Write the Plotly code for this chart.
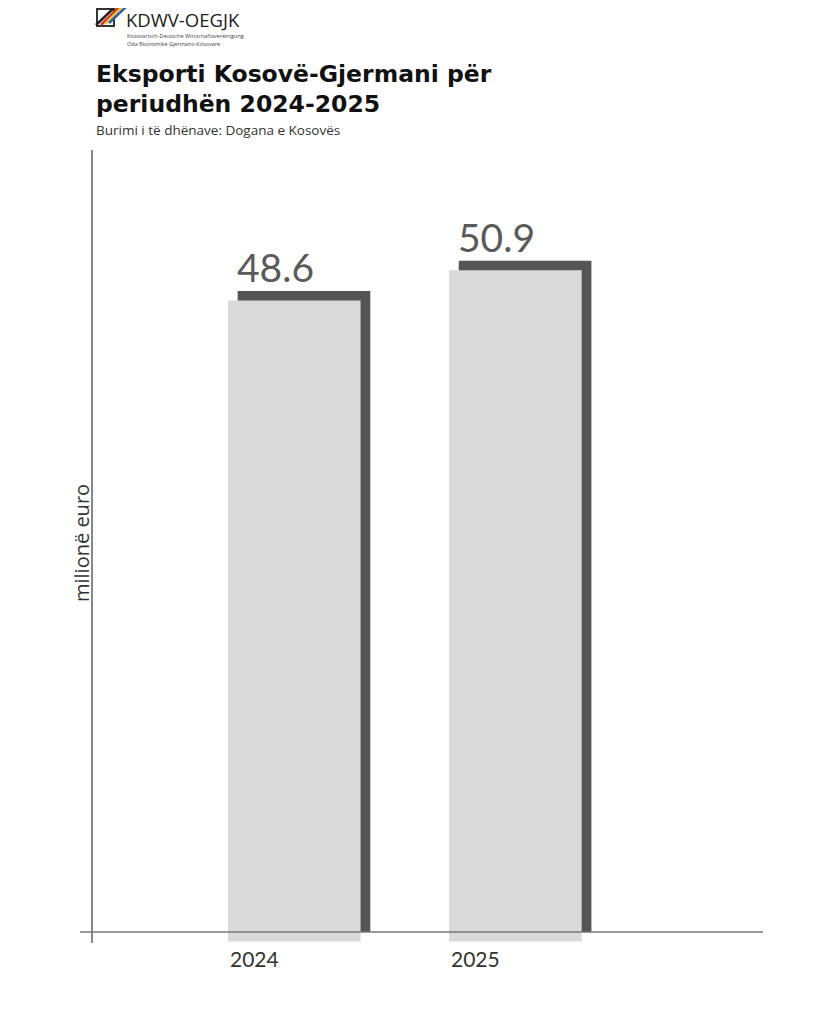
import plotly.graph_objects as go

years = ["2024", "2025"]
values = [48.6, 50.9]
value_labels = ["48.6", "50.9"]

title_line1 = "Eksporti Kosovë-Gjermani për"
title_line2 = "periudhën 2024-2025"
subtitle = "Burimi i të dhënave: Dogana e Kosovës"
y_title = "milionë euro"

LIGHT = "#d9d9d9"
DARK = "#555555"
BAR_W = 0.6
DX = 0.044      # shadow horizontal offset (data units)
DROP = 0.72     # front bar drop (data units)

xs = list(range(len(years)))

# page is offset by the 8px body margin; work in page pixel coords
OFF = 8
PAGE_W, PAGE_H = 819, 1024
W, H = PAGE_W - OFF, PAGE_H - OFF
X_LEFT, X_RIGHT, Y_TOP, Y_BOT = 93, 763, 150, 943   # plot area in page px
ML, MR, MT, MB = X_LEFT - OFF, W - (X_RIGHT - OFF), Y_TOP - OFF, H - (Y_BOT - OFF)
PW, PH = X_RIGHT - X_LEFT, Y_BOT - Y_TOP


def pxp(x):
    return (x - X_LEFT) / PW


def pyp(y):
    return (Y_BOT - y) / PH


fig = go.Figure()
# shadow bars
fig.add_trace(go.Bar(x=[x + DX for x in xs], y=values, width=BAR_W,
                     marker=dict(color=DARK, line=dict(width=0)),
                     hoverinfo="skip", showlegend=False))
# front bars (shifted down/left)
fig.add_trace(go.Bar(x=xs, y=values, base=[-DROP] * len(values), width=BAR_W,
                     marker=dict(color=LIGHT, line=dict(width=0)),
                     hoverinfo="skip", showlegend=False))

annotations = []
for x, v, lab, yr in zip(xs, values, value_labels, years):
    annotations.append(dict(x=x + DX - BAR_W / 2, y=v, xref="x", yref="y",
                            text=lab, showarrow=False, xanchor="left", yanchor="bottom",
                            xshift=-3, yshift=-1,
                            font=dict(family="Lato", size=39, color="#5a5a5a")))
    annotations.append(dict(x=x - BAR_W / 2, y=0, xref="x", yref="y",
                            text=yr, showarrow=False, xanchor="left", yanchor="top",
                            yshift=-12,
                            font=dict(family="Lato", size=21, color="#333333")))

annotations += [
    dict(x=pxp(94), y=pyp(74), xref="paper", yref="paper", text="<b>" + title_line1 + "</b>",
         showarrow=False, xanchor="left", yanchor="middle",
         font=dict(family="DejaVu Sans", size=23.5, color="#111111")),
    dict(x=pxp(94), y=pyp(104), xref="paper", yref="paper", text="<b>" + title_line2 + "</b>",
         showarrow=False, xanchor="left", yanchor="middle",
         font=dict(family="DejaVu Sans", size=23.5, color="#111111")),
    dict(x=pxp(94), y=pyp(141), xref="paper", yref="paper", text=subtitle,
         showarrow=False, xanchor="left", yanchor="bottom",
         font=dict(family="Open Sans", size=13.5, color="#333333")),
    dict(x=pxp(81), y=pyp(543), xref="paper", yref="paper", text=y_title,
         showarrow=False, xanchor="center", yanchor="middle", textangle=-90,
         font=dict(family="Open Sans", size=20, color="#333333")),
    # logo
    dict(x=pxp(125), y=pyp(19.5), xref="paper", yref="paper", text="KDWV-OEGJK",
         showarrow=False, xanchor="left", yanchor="middle", borderpad=0,
         font=dict(family="Open Sans", size=18.5, color="#222222")),
    dict(x=pxp(126), y=pyp(36), xref="paper", yref="paper",
         text="Kosovarisch-Deutsche Wirtschaftsvereinigung",
         showarrow=False, xanchor="left", yanchor="middle", borderpad=0,
         font=dict(family="Open Sans", size=5.5, color="#444444")),
    dict(x=pxp(126), y=pyp(44), xref="paper", yref="paper",
         text="Oda Ekonomike Gjermano-Kosovare",
         showarrow=False, xanchor="left", yanchor="middle", borderpad=0,
         font=dict(family="Open Sans", size=5.5, color="#444444")),
]

shapes = [
    # x axis line extending a bit left of the y axis
    dict(type="line", xref="paper", yref="y", x0=pxp(80), x1=1, y0=0, y1=0,
         line=dict(color="#777777", width=1.5)),
    # logo mark
    dict(type="rect", xref="paper", yref="paper", x0=pxp(97), x1=pxp(114), y0=pyp(26), y1=pyp(9),
         line=dict(color="#333333", width=2)),
    dict(type="line", xref="paper", yref="paper", x0=pxp(96), x1=pxp(116), y0=pyp(25), y1=pyp(6),
         line=dict(color="#222222", width=2.5)),
    dict(type="line", xref="paper", yref="paper", x0=pxp(101), x1=pxp(121), y0=pyp(25), y1=pyp(5),
         line=dict(color="#d0312d", width=2.5)),
    dict(type="line", xref="paper", yref="paper", x0=pxp(105), x1=pxp(125), y0=pyp(24), y1=pyp(4),
         line=dict(color="#f2c12e", width=2.5)),
    dict(type="line", xref="paper", yref="paper", x0=pxp(109), x1=pxp(129), y0=pyp(23), y1=pyp(4),
         line=dict(color="#2c5fa8", width=2.5)),
]

fig.update_layout(
    width=W, height=H,
    paper_bgcolor="white", plot_bgcolor="white",
    margin=dict(l=ML, r=MR, t=MT, b=MB, pad=0),
    barmode="overlay",
    showlegend=False,
    annotations=annotations,
    shapes=shapes,
    xaxis=dict(range=[-0.91, 2.12], showgrid=False, zeroline=False, showline=False,
               showticklabels=False, ticks="", fixedrange=True),
    yaxis=dict(range=[-0.83, 59.3], showgrid=False, zeroline=False,
               showline=True, linecolor="#888888", linewidth=1.5,
               showticklabels=False, ticks="", fixedrange=True),
)

fig.write_html("out.html")
